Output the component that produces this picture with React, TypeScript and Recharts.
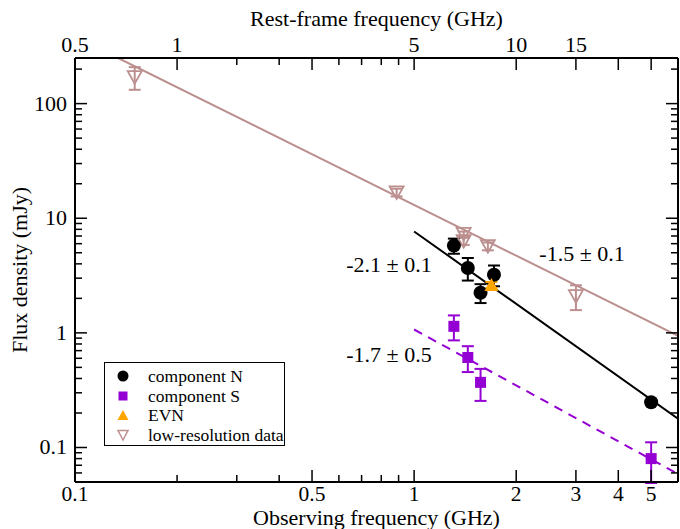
import {
  ComposedChart,
  Scatter,
  Line,
  XAxis,
  YAxis,
  ErrorBar,
  ReferenceDot,
  Legend,
  Label,
} from "recharts";

// Observing frequency (GHz), flux density (mJy), 1-sigma error (mJy)
const nFreq = [1.31, 1.44, 1.57, 1.72, 5.0];
const nFlux = [5.77, 3.68, 2.24, 3.21, 0.248];
const nErr = [0.87, 0.82, 0.42, 0.66, 0.01];

const sFreq = [1.31, 1.44, 1.57, 5.0];
const sFlux = [1.14, 0.61, 0.37, 0.08];
const sErr = [0.28, 0.155, 0.115, 0.031];

const evnFreq = [1.69];
const evnFlux = [2.62];
const evnErr = [0.16];

const lowResFreq = [0.15, 0.888, 1.4, 1.4, 1.65, 3.0];
const lowResFlux = [170, 16.8, 7.3, 6.3, 5.7, 2.09];
const lowResErr = [38, 1.3, 0.35, 0.45, 0.45, 0.51];

// power-law fits, end points
const fitLowResFreq = [0.134, 6];
const fitLowResFlux = [250, 0.94];
const fitNFreq = [1, 6];
const fitNFlux = [7.67, 0.178];
const fitSFreq = [1, 6];
const fitSFlux = [1.07, 0.0587];

// source redshift: rest-frame frequency = observed * (1 + z)
const REDSHIFT = 4;

// axis ticks
const obsTicks = [0.1, 0.2, 0.3, 0.4, 0.5, 0.6, 0.7, 0.8, 0.9, 1, 2, 3, 4, 5];
const obsLabels = [0.1, 0.5, 1, 2, 3, 4, 5];
const restTicks = [0.5, 1, 1.5, 2, 2.5, 3, 3.5, 4, 4.5, 5, 10, 15, 20, 25];
const restLabels = [0.5, 1, 5, 10, 15];
const restMajor = [0.5, 1, 2.5, 5, 10, 15, 20, 25];
const fluxTicks = [
  0.06, 0.07, 0.08, 0.09, 0.1, 0.2, 0.3, 0.4, 0.5, 0.6, 0.7, 0.8, 0.9, 1, 2, 3,
  4, 5, 6, 7, 8, 9, 10, 20, 30, 40, 50, 60, 70, 80, 90, 100, 200,
];
const fluxLabels = [0.1, 1, 10, 100];

const slopeLabels = [
  { text: "-2.1 \u00b1 0.1", x: 0.631, y: 3.96 },
  { text: "-1.5 \u00b1 0.1", x: 2.34, y: 4.99 },
  { text: "-1.7 \u00b1 0.5", x: 0.631, y: 0.649 },
];

const FONT = '"Liberation Serif", "Times New Roman", serif';
const BLACK = "#000000";
const PURPLE = "#9400d3";
const ORANGE = "#ffa500";
const ROSY = "#bc8f8f";

// full-bleed page, no scrollbars
document.body.style.margin = "0";
document.body.style.overflow = "hidden";

const toPoints = (xs: number[], ys: number[], es?: number[]) =>
  xs.map((x, i) => ({ x, y: ys[i], err: es ? es[i] : 0 }));

const nData = toPoints(nFreq, nFlux, nErr);
const sData = toPoints(sFreq, sFlux, sErr);
const evnData = toPoints(evnFreq, evnFlux, evnErr);
const lowResData = toPoints(lowResFreq, lowResFlux, lowResErr);
const fitLowRes = toPoints(fitLowResFreq, fitLowResFlux);
const fitN = toPoints(fitNFreq, fitNFlux);
const fitS = toPoints(fitSFreq, fitSFlux);
// same low-resolution points on the rest-frame axes, keeps the top/right axes alive
const restFrameData = lowResData.map((p) => ({ x: p.x * (1 + REDSHIFT), y: p.y }));

const MAJOR = 12;
const MINOR = 7;

// ticks point into the frame, grace style
const BottomTick = (props: any) => {
  const { x, y, payload } = props;
  const v = payload.value;
  const major = obsLabels.includes(v);
  return (
    <g>
      <line x1={x} x2={x} y1={y} y2={y - (major ? MAJOR : MINOR)} stroke={BLACK} strokeWidth={1.5} />
      {major && (
        <text x={x} y={y + 19} textAnchor="middle" fontSize={21.5} fontFamily={FONT} fill={BLACK}>
          {v}
        </text>
      )}
    </g>
  );
};

const TopTick = (props: any) => {
  const { x, y, payload } = props;
  const v = payload.value;
  const major = restMajor.includes(v);
  return (
    <g>
      <line x1={x} x2={x} y1={y} y2={y + (major ? MAJOR : MINOR)} stroke={BLACK} strokeWidth={1.5} />
      {restLabels.includes(v) && (
        <text x={x} y={y - 6} textAnchor="middle" fontSize={22} fontFamily={FONT} fill={BLACK}>
          {v}
        </text>
      )}
    </g>
  );
};

const LeftTick = (props: any) => {
  const { x, y, payload } = props;
  const v = payload.value;
  const major = fluxLabels.includes(v);
  return (
    <g>
      <line x1={x} x2={x + (major ? MAJOR : MINOR)} y1={y} y2={y} stroke={BLACK} strokeWidth={1.5} />
      {major && (
        <text x={x - 8} y={y + 7} textAnchor="end" fontSize={22} fontFamily={FONT} fill={BLACK}>
          {v}
        </text>
      )}
    </g>
  );
};

const RightTick = (props: any) => {
  const { x, y, payload } = props;
  const major = fluxLabels.includes(payload.value);
  return <line x1={x} x2={x - (major ? MAJOR : MINOR)} y1={y} y2={y} stroke={BLACK} strokeWidth={1.5} />;
};

const Circle = (props: any) => <circle cx={props.cx} cy={props.cy} r={7} fill={BLACK} />;
const Square = (props: any) => (
  <rect x={props.cx - 5.5} y={props.cy - 5.5} width={11} height={11} fill={PURPLE} />
);
const UpTriangle = (props: any) => {
  const { cx, cy } = props;
  return <polygon points={`${cx - 7},${cy + 6} ${cx + 7},${cy + 6} ${cx},${cy - 7}`} fill={ORANGE} />;
};
const DownTriangle = (props: any) => {
  const { cx, cy } = props;
  return (
    <polygon
      points={`${cx - 7},${cy - 6} ${cx + 7},${cy - 6} ${cx},${cy + 6.5}`}
      fill="none"
      stroke={ROSY}
      strokeWidth={1.8}
    />
  );
};
const Nothing = () => <g />;

const legendItems = [
  { name: "component N", color: BLACK, kind: "circle" },
  { name: "component S", color: PURPLE, kind: "square" },
  { name: "EVN", color: ORANGE, kind: "up" },
  { name: "low-resolution data", color: ROSY, kind: "down" },
];

const LegendMarker = ({ kind, color }: { kind: string; color: string }) => {
  if (kind === "circle") return <circle cx={18} cy={10} r={5.5} fill={color} />;
  if (kind === "square") return <rect x={13.5} y={5.5} width={9} height={9} fill={color} />;
  if (kind === "up") return <polygon points="12.5,15 23.5,15 18,5" fill={color} />;
  return <polygon points="13,5.5 23,5.5 18,15" fill="none" stroke={color} strokeWidth={1.5} />;
};

const LegendBox = () => (
  <div
    style={{
      boxSizing: "border-box",
      width: 181,
      height: 84,
      border: "1px solid #000",
      background: "#fff",
      paddingTop: 3,
    }}
  >
    {legendItems.map((item) => (
      <div key={item.name} style={{ display: "flex", alignItems: "center", height: 19.7 }}>
        <svg width={43} height={20} style={{ flex: "none" }}>
          <LegendMarker kind={item.kind} color={item.color} />
        </svg>
        <span style={{ fontFamily: FONT, fontSize: 17.5, color: BLACK, lineHeight: "20px", whiteSpace: "nowrap" }}>
          {item.name}
        </span>
      </div>
    ))}
  </div>
);

const FluxTitle = (props: any) => {
  const vb = props.viewBox;
  const cx = vb.x + 27;
  const cy = vb.y + vb.height / 2;
  return (
    <text
      transform={`translate(${cx},${cy}) rotate(-90)`}
      textAnchor="middle"
      fontSize={22}
      fontFamily={FONT}
      fill={BLACK}
    >
      Flux density (mJy)
    </text>
  );
};

const ObsTitle = (props: any) => {
  const vb = props.viewBox;
  return (
    <text x={vb.x + vb.width / 2} y={vb.y + 43} textAnchor="middle" fontSize={22} fontFamily={FONT} fill={BLACK}>
      Observing frequency (GHz)
    </text>
  );
};

const RestTitle = (props: any) => {
  const vb = props.viewBox;
  return (
    <text x={vb.x + vb.width / 2} y={26} textAnchor="middle" fontSize={22} fontFamily={FONT} fill={BLACK}>
      Rest-frame frequency (GHz)
    </text>
  );
};

const frame = { stroke: BLACK, strokeWidth: 2 };

export default function App() {
  return (
    <div style={{ width: 680, height: 529, background: "#fff" }}>
      <ComposedChart width={680} height={529} margin={{ top: 0, right: 0, bottom: 0, left: 0 }}>
        <XAxis
          xAxisId="obs"
          dataKey="x"
          type="number"
          scale="log"
          domain={[0.1, 6]}
          allowDataOverflow
          ticks={obsTicks}
          interval={0}
          tickSize={0}
          tickMargin={0}
          tick={BottomTick}
          height={47}
          axisLine={frame}
        >
          <Label content={ObsTitle} />
        </XAxis>
        <XAxis
          xAxisId="rest"
          dataKey="x"
          orientation="top"
          type="number"
          scale="log"
          domain={[0.5, 30]}
          allowDataOverflow
          ticks={restTicks}
          interval={0}
          tickSize={0}
          tickMargin={0}
          tick={TopTick}
          height={58}
          axisLine={frame}
        >
          <Label content={RestTitle} />
        </XAxis>
        <YAxis
          yAxisId="flux"
          dataKey="y"
          type="number"
          scale="log"
          domain={[0.05, 250]}
          allowDataOverflow
          ticks={fluxTicks}
          interval={0}
          tickSize={0}
          tickMargin={0}
          tick={LeftTick}
          width={75}
          axisLine={frame}
        >
          <Label content={FluxTitle} />
        </YAxis>
        <YAxis
          yAxisId="right"
          dataKey="y"
          orientation="right"
          type="number"
          scale="log"
          domain={[0.05, 250]}
          allowDataOverflow
          ticks={fluxTicks}
          interval={0}
          tickSize={0}
          tickMargin={0}
          tick={RightTick}
          width={2}
          axisLine={frame}
        />

        <Scatter
          xAxisId="rest"
          yAxisId="right"
          data={restFrameData}
          shape={Nothing}
          legendType="none"
          isAnimationActive={false}
        />

        <Line
          xAxisId="obs"
          yAxisId="flux"
          data={fitLowRes}
          dataKey="y"
          stroke={ROSY}
          strokeWidth={2}
          dot={false}
          legendType="none"
          isAnimationActive={false}
        />
        <Line
          xAxisId="obs"
          yAxisId="flux"
          data={fitN}
          dataKey="y"
          stroke={BLACK}
          strokeWidth={2}
          dot={false}
          legendType="none"
          isAnimationActive={false}
        />
        <Line
          xAxisId="obs"
          yAxisId="flux"
          data={fitS}
          dataKey="y"
          stroke={PURPLE}
          strokeWidth={2}
          strokeDasharray="9 7"
          dot={false}
          legendType="none"
          isAnimationActive={false}
        />

        <Scatter xAxisId="obs" yAxisId="flux" name="low-resolution data" data={lowResData} shape={DownTriangle} isAnimationActive={false}>
          <ErrorBar dataKey="err" direction="y" width={6} stroke={ROSY} strokeWidth={2} isAnimationActive={false} />
        </Scatter>
        <Scatter xAxisId="obs" yAxisId="flux" name="component N" data={nData} shape={Circle} isAnimationActive={false}>
          <ErrorBar dataKey="err" direction="y" width={6} stroke={BLACK} strokeWidth={2} isAnimationActive={false} />
        </Scatter>
        <Scatter xAxisId="obs" yAxisId="flux" name="component S" data={sData} shape={Square} isAnimationActive={false}>
          <ErrorBar dataKey="err" direction="y" width={6} stroke={PURPLE} strokeWidth={2} isAnimationActive={false} />
        </Scatter>
        <Scatter xAxisId="obs" yAxisId="flux" name="EVN" data={evnData} shape={UpTriangle} isAnimationActive={false}>
          <ErrorBar dataKey="err" direction="y" width={6} stroke={ORANGE} strokeWidth={2} isAnimationActive={false} />
        </Scatter>

        {slopeLabels.map((s) => (
          <ReferenceDot
            key={s.text}
            xAxisId="obs"
            yAxisId="flux"
            x={s.x}
            y={s.y}
            r={0}
            fill="none"
            stroke="none"
            label={{
              value: s.text,
              position: "right",
              offset: 0,
              fontSize: 22,
              fontFamily: FONT,
              fill: BLACK,
            }}
          />
        ))}

        <Legend
          layout="horizontal"
          verticalAlign="middle"
          align="center"
          content={LegendBox}
          wrapperStyle={{ left: 104, top: 362, width: 181, height: 84 }}
        />
      </ComposedChart>
    </div>
  );
}
